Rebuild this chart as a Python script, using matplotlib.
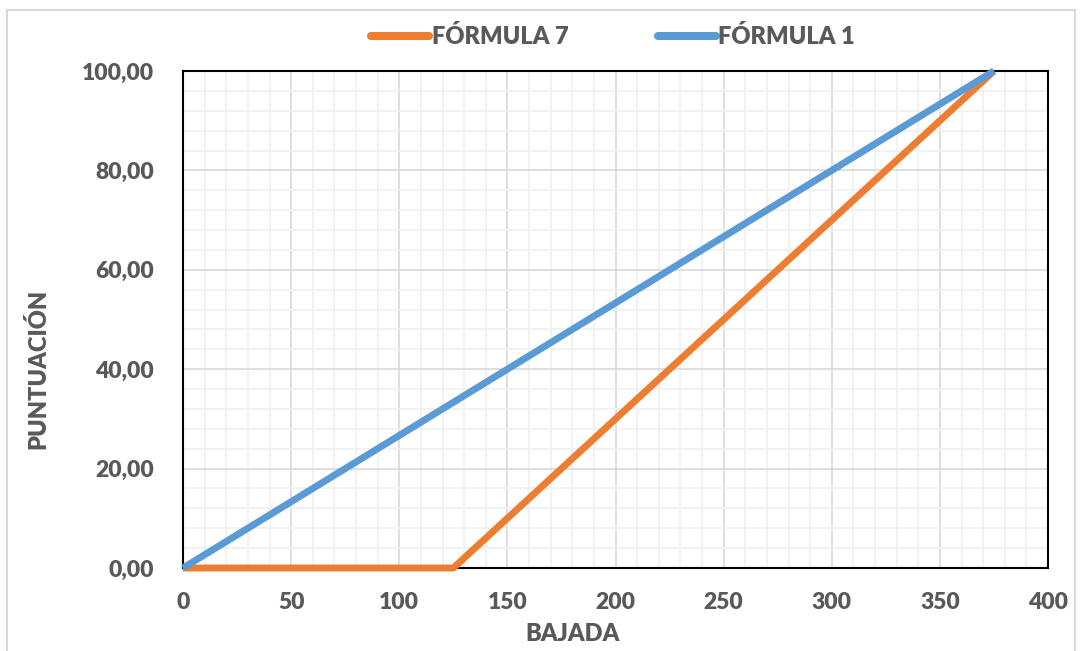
import matplotlib
matplotlib.use("Agg")
import matplotlib.pyplot as plt
from matplotlib.patches import Rectangle
from matplotlib.ticker import MultipleLocator, FuncFormatter

plt.rcParams['font.family'] = ['Lato', 'DejaVu Sans']
WEIGHT = 'heavy'

# data
f7_x = [0, 125, 375]
f7_y = [0, 0, 100]
f1_x = [0, 375]
f1_y = [0, 100]
series_names = ["FÓRMULA 7", "FÓRMULA 1"]
colors = ["#ED7D31", "#5B9BD5"]

W, H = 1082, 651
fig = plt.figure(figsize=(W/100, H/100), dpi=100)
ax = fig.add_axes([183/W, 1-568/H, (1048-183)/W, (568-71)/H])

# chart border
fig.patches.append(Rectangle((7/W, -0.01), (1075-7)/W, (H-10)/H + 0.01,
                             transform=fig.transFigure, fill=False,
                             edgecolor="#D9D9D9", linewidth=1.5))

ax.set_xlim(0, 400)
ax.set_ylim(0, 100)
ax.xaxis.set_major_locator(MultipleLocator(50))
ax.xaxis.set_minor_locator(MultipleLocator(10))
ax.yaxis.set_major_locator(MultipleLocator(20))
ax.yaxis.set_minor_locator(MultipleLocator(4))
ax.grid(which='major', color="#D9D9D9", linewidth=1.2)
ax.grid(which='minor', color="#F0F0F0", linewidth=1.2)
ax.set_axisbelow(True)

ax.plot(f7_x, f7_y, color=colors[0], linewidth=5, label=series_names[0], solid_capstyle='butt', zorder=3, clip_on=False)
ax.plot(f1_x, f1_y, color=colors[1], linewidth=5, label=series_names[1], solid_capstyle='butt', zorder=4, clip_on=False)

for s in ax.spines.values():
    s.set_color("black")
    s.set_linewidth(1.5)

ax.yaxis.set_major_formatter(FuncFormatter(lambda v, p: f"{v:.2f}".replace(".", ",")))
ax.tick_params(which='both', length=0)
ax.tick_params(axis='x', labelsize=16.5, labelcolor="#595959", pad=17)
ax.tick_params(axis='y', labelsize=16.5, labelcolor="#595959", pad=21)
for lbl in ax.get_xticklabels() + ax.get_yticklabels():
    lbl.set_fontweight(WEIGHT)

fig.text(573/W, 1-634/H, "BAJADA", fontsize=17, fontweight=WEIGHT, color="#595959",
         ha='center', va='center')
fig.text(38/W, 1-369/H, "PUNTUACIÓN", fontsize=17, fontweight=WEIGHT, color="#595959",
         ha='center', va='center', rotation=90)

leg = fig.legend(loc='center', bbox_to_anchor=(613/W, 1-37/H), ncol=2, frameon=False,
                 prop={'weight': WEIGHT, 'size': 17}, labelcolor="#595959",
                 handlelength=2.45, handletextpad=0.1, columnspacing=3.8)
for h in leg.get_lines():
    h.set_solid_capstyle('round')
    h.set_linewidth(5.8)

fig.savefig("out.png", dpi=100)
